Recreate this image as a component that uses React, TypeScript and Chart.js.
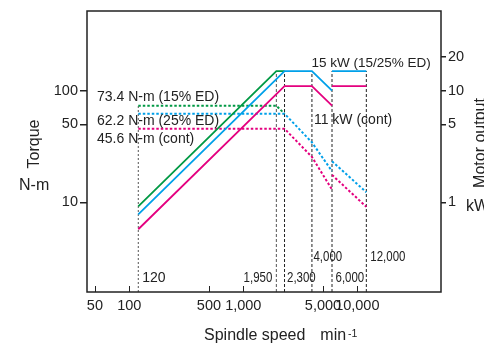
import React, { useEffect, useRef } from "react";
import { Chart, registerables } from "chart.js";
Chart.register(...registerables);

// Axis ranges
const X_MIN = 42.6;
const X_MAX = 54200;
const Y_MIN = 1.57;
const Y_MAX = 518;
const Y2_MIN = 0.157;
const Y2_MAX = 51.8;

// Tick labels
const xTicks = [50, 100, 500, 1000, 5000, 10000];
const torqueTicks = [10, 50, 100];
const powerTicks = [1, 5, 10, 20];

// Speed breakpoints (min-1)
const speedBreaks = [120, 1950, 2300, 4000, 6000, 12000];
const speedLabels = ["120", "1,950", "2,300", "4,000", "6,000", "12,000"];

// Motor output (kW) — solid
const ed15PowerSpeed = [120, 1950, 2300];
const ed15Power = [0.92, 15, 15];
const ed25PowerSpeed = [120, 2300, 4000, 6000, 6000, 6000, 12000];
const ed25Power: (number | null)[] = [0.78, 15, 15, 10, null, 15, 15];
const contPowerSpeed = [120, 2300, 4000, 6000, 6000, 6000, 12000];
const contPower: (number | null)[] = [0.573, 11, 11, 7.35, null, 11, 11];

// Torque (N-m) — dashed
const ed15TorqueSpeed = [120, 1950, 2300];
const ed15Torque = [73.4, 73.4, 62.2];
const ed25TorqueSpeed = [120, 2300, 4000, 6000, 6000, 6000, 12000];
const ed25Torque: (number | null)[] = [62.2, 62.2, 34.4, 19, null, 23.3, 12.3];
const contTorqueSpeed = [120, 2300, 4000, 6000, 6000, 6000, 12000];
const contTorque: (number | null)[] = [45.6, 45.6, 25.5, 13, null, 17.6, 9.1];

// Vertical guide tops
const guideTopTorque120 = 73.4; // N-m
const guideTopPower = 15; // kW

const GREEN = "#009944";
const BLUE = "#00a0e9";
const MAGENTA = "#e4007f";
const INK = "#222";
const FONT = "'Liberation Sans', Arial, sans-serif";

const pts = (xs: number[], ys: (number | null)[]) => xs.map((x, i) => ({ x, y: ys[i] }));

function drawText(ctx: CanvasRenderingContext2D, s: string, x: number, y: number, size: number, align: CanvasTextAlign = "left", sx = 1, rot = 0) {
  ctx.save();
  ctx.font = `${size}px ${FONT}`;
  ctx.fillStyle = INK;
  ctx.textAlign = align;
  ctx.textBaseline = "alphabetic";
  ctx.translate(x, y);
  if (rot) ctx.rotate(rot);
  ctx.scale(sx, 1);
  ctx.fillText(s, 0, 0);
  ctx.restore();
}

const overlay = {
  id: "overlay",
  afterDraw(chart: any) {
    const ctx: CanvasRenderingContext2D = chart.ctx;
    const { left, right, top, bottom } = chart.chartArea;
    const xs = chart.scales.x;
    const ys = chart.scales.y;
    const y2s = chart.scales.y2;
    ctx.save();
    ctx.strokeStyle = INK;
    ctx.lineWidth = 1.5;
    ctx.strokeRect(left, top, right - left, bottom - top);
    // inward x ticks
    ctx.beginPath();
    xTicks.forEach((v) => {
      const px = Math.round(xs.getPixelForValue(v)) + 0.5;
      ctx.moveTo(px, bottom);
      ctx.lineTo(px, bottom - 6);
    });
    ctx.lineWidth = 1;
    ctx.stroke();
    ctx.restore();

    // curve labels
    const lx = left + 10;
    drawText(ctx, "73.4 N-m (15% ED)", lx, ys.getPixelForValue(73.4) - 4.5, 14);
    drawText(ctx, "62.2 N-m (25% ED)", lx, ys.getPixelForValue(62.2) + 11.5, 14);
    drawText(ctx, "45.6 N-m (cont)", lx, ys.getPixelForValue(45.6) + 14.5, 14);
    drawText(ctx, "15 kW (15/25% ED)", xs.getPixelForValue(4000) - 0.5, y2s.getPixelForValue(15) - 4, 13.5);
    drawText(ctx, "11 kW (cont)", xs.getPixelForValue(4000) + 2, y2s.getPixelForValue(5) - 0, 14);

    // speed labels
    const offs = [4, -4, 2.5, 1.5, 3.5, 4];
    const base = [282, 282, 282, 261, 282, 261];
    speedBreaks.forEach((s, i) => {
      const px = xs.getPixelForValue(s) + offs[i];
      if (i === 0) drawText(ctx, speedLabels[i], px, base[i], 14);
      else drawText(ctx, speedLabels[i], px, base[i], 14, i === 1 ? "right" : "left", 0.82);
    });

    // axis titles
    drawText(ctx, "Torque", 38.5, 144, 16, "center", 1, -Math.PI / 2);
    drawText(ctx, "N-m", 19, 190, 16);
    drawText(ctx, "Motor output", 485.2, 143, 16, "center", 1, -Math.PI / 2);
    drawText(ctx, "kW", 466, 211, 16);
    drawText(ctx, "Spindle speed", 204, 340, 16);
    drawText(ctx, "min", 320.3, 340, 16);
    drawText(ctx, "-1", 348, 337, 10.5);
  },
};

export default function App() {
  const ref = useRef<HTMLCanvasElement | null>(null);
  useEffect(() => {
    if (!ref.current) return;
    const solid = (data: any, color: string) => ({
      data, borderColor: color, borderWidth: 1.8, pointRadius: 0, yAxisID: "y2", fill: false, tension: 0, spanGaps: false,
    });
    const dashed = (data: any, color: string) => ({
      data, borderColor: color, borderWidth: 2, borderDash: [2.5, 2], pointRadius: 0, yAxisID: "y", fill: false, tension: 0, spanGaps: false,
    });
    const guides = speedBreaks.map((s, i) =>
      i === 0
        ? { data: [{ x: s, y: Y_MIN }, { x: s, y: guideTopTorque120 }], borderColor: "#555", borderWidth: 1, borderDash: [2, 2], pointRadius: 0, yAxisID: "y" }
        : { data: [{ x: s, y: Y2_MIN }, { x: s, y: guideTopPower }], borderColor: i === 1 ? "#555" : "#222", borderWidth: 1, borderDash: [3, 2], pointRadius: 0, yAxisID: "y2" }
    );
    const tickFont = { family: FONT, size: 14.5 };
    const chart = new Chart(ref.current, {
      type: "line",
      data: {
        datasets: [
          solid(pts(contPowerSpeed, contPower), MAGENTA),
          solid(pts(ed25PowerSpeed, ed25Power), BLUE),
          solid(pts(ed15PowerSpeed, ed15Power), GREEN),
          dashed(pts(contTorqueSpeed, contTorque), MAGENTA),
          dashed(pts(ed25TorqueSpeed, ed25Torque), BLUE),
          dashed(pts(ed15TorqueSpeed, ed15Torque), GREEN),
          ...guides,
        ] as any,
      },
      options: {
        animation: false,
        responsive: false,
        devicePixelRatio: 1,
        layout: { padding: { top: 11, left: 0, right: 0, bottom: 0 } },
        plugins: { legend: { display: false }, tooltip: { enabled: false } },
        scales: {
          x: {
            type: "logarithmic", min: X_MIN, max: X_MAX,
            afterBuildTicks: (s: any) => { s.ticks = xTicks.map((v) => ({ value: v })); },
            afterFit: (s: any) => { s.height = 52; },
            ticks: { callback: (v: any) => Number(v).toLocaleString("en-US"), autoSkip: false, maxRotation: 0, padding: -3, font: tickFont, color: INK },
            grid: { display: false }, border: { display: false },
          },
          y: {
            type: "logarithmic", position: "left", min: Y_MIN, max: Y_MAX,
            afterBuildTicks: (s: any) => { s.ticks = torqueTicks.map((v) => ({ value: v })); },
            afterFit: (s: any) => { s.width = 87; },
            ticks: { callback: (v: any) => String(v), autoSkip: false, padding: 2, font: tickFont, color: INK },
            grid: { drawOnChartArea: false, tickLength: 7, color: INK, lineWidth: 1.5 }, border: { display: false },
          },
          y2: {
            type: "logarithmic", position: "right", min: Y2_MIN, max: Y2_MAX,
            afterBuildTicks: (s: any) => { s.ticks = powerTicks.map((v) => ({ value: v })); },
            afterFit: (s: any) => { s.width = 43; },
            ticks: { callback: (v: any) => String(v), autoSkip: false, padding: 2, font: tickFont, color: INK },
            grid: { drawOnChartArea: false, tickLength: 5, color: INK, lineWidth: 1.5 }, border: { display: false },
          },
        },
      } as any,
      plugins: [overlay],
    });
    return () => chart.destroy();
  }, []);
  return (
    <div style={{ position: "fixed", left: 0, top: 0, width: 484, height: 344, background: "#fff" }}>
      <canvas ref={ref} width={484} height={344} style={{ width: 484, height: 344, display: "block" }} />
    </div>
  );
}
